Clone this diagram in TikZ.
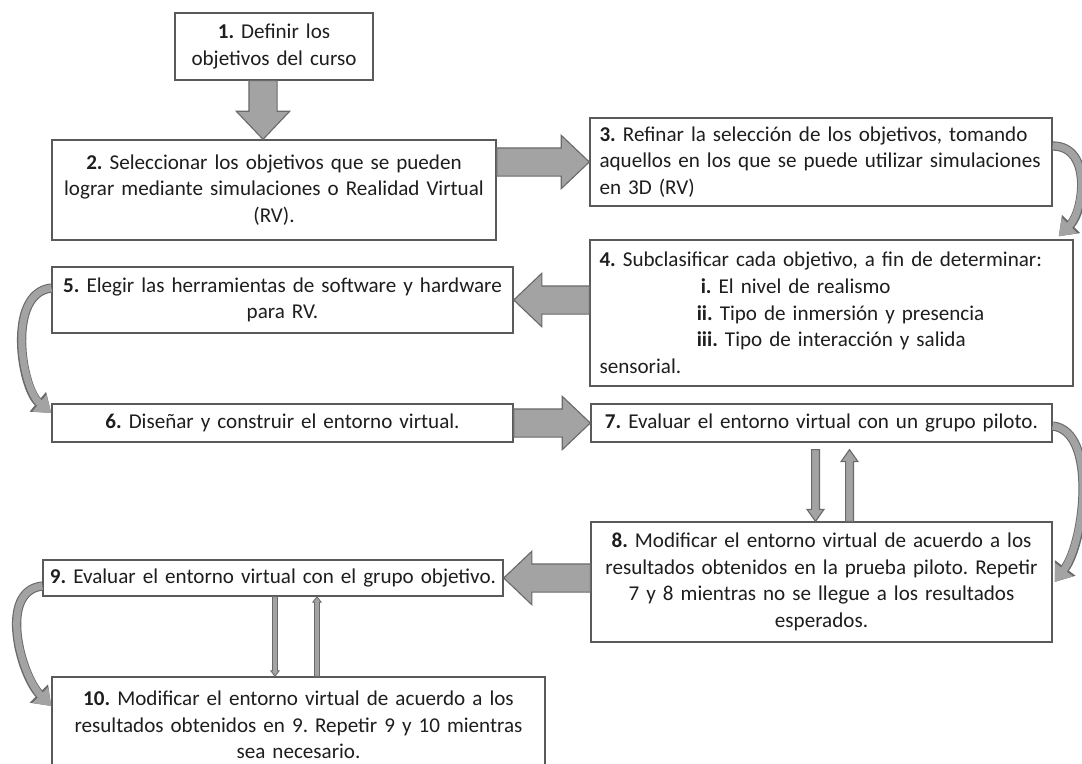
\documentclass[tikz,border=0pt]{standalone}
\usepackage{fontspec}
\setmainfont{Carlito}
\usetikzlibrary{calc,arrows.meta}
\definecolor{boxline}{HTML}{5A5A5A}
\definecolor{arrowfill}{HTML}{A3A3A3}
\definecolor{arrowline}{HTML}{6A6A6A}
\definecolor{textcol}{HTML}{1E1E1E}
\frenchspacing
\tikzset{
    box/.style={draw=boxline, line width=0.9pt, fill=white, text=textcol,
                inner xsep=0.1cm, inner ysep=0pt, align=center,
                font=\fontsize{15}{19}\selectfont\frenchspacing},
    blockarrow/.style n args={3}{draw=arrowline, fill=arrowfill, line width=0.8pt,
        to path={let \p1=(\tikztostart), \p2=(\tikztotarget),
                     \n1={atan2(\y2-\y1,\x2-\x1)},
                     \n2={veclen(\x2-\x1,\y2-\y1)-#3} in
            ($(\p1)+(\n1+90:#1)$) -- ($(\p1)+(\n1:\n2)+(\n1+90:#1)$)
            -- ($(\p1)+(\n1:\n2)+(\n1+90:#2)$) -- (\p2)
            -- ($(\p1)+(\n1:\n2)+(\n1-90:#2)$) -- ($(\p1)+(\n1:\n2)+(\n1-90:#1)$)
            -- ($(\p1)+(\n1-90:#1)$) -- cycle}},
    bigarrow/.style={blockarrow={10pt}{19pt}{20pt}},
    thinarrow/.style={blockarrow={2.8pt}{6pt}{8.5pt}},
    tinyarrow/.style={blockarrow={1.8pt}{3pt}{4pt}, line width=0.6pt},
    curvearrow/.style={draw=arrowfill, line width=5pt, -{Triangle[length=11pt,width=15pt]},
        preaction={draw=arrowline, line width=6.6pt, -{Triangle[length=12.5pt,width=17.5pt]}}}
}
\begin{document}
\begin{tikzpicture}[x=0.025cm, y=-0.025cm]
    \useasboundingbox (0,0) rectangle (1082,763);
    \clip (0,0) rectangle (1082,763);
    % boxes
    \node[box, text width=4.75cm, minimum height=1.675cm] (b1) at (274,46.5)
        {\textbf{1.} Definir los\\objetivos del curso};
    \node[box, text width=10.9cm, minimum height=2.5cm] (b2) at (274,190)
        {\textbf{2.} Seleccionar los objetivos que se pueden\\lograr mediante simulaciones o Realidad Virtual\\(RV).};
    \node[box, align=left, inner xsep=0.24cm, text width=11.07cm, minimum height=2.2cm] (b3) at (821,162)
        {\textbf{3.} Refinar la selección de los objetivos, tomando\\aquellos en los que se puede utilizar simulaciones\\en 3D (RV)};
    \node[box, align=left, inner xsep=0.24cm, text width=11.595cm, minimum height=3.65cm] (b4) at (831.5,313)
        {\textbf{4.} Subclasificar cada objetivo, a fin de determinar:\\
         \hspace*{2.53cm}\textbf{i.} El nivel de realismo\\
         \hspace*{2.43cm}\textbf{ii.} Tipo de inmersión y presencia\\
         \hspace*{2.43cm}\textbf{iii.} Tipo de interacción y salida\\
         sensorial.};
    \node[box, text width=11.325cm, minimum height=1.65cm] (b5) at (282.5,300)
        {\textbf{5.} Elegir las herramientas de software y hardware\\para RV.};
    \node[box, text width=11.325cm, minimum height=0.95cm] (b6) at (282.5,423)
        {\textbf{6.} Diseñar y construir el entorno virtual.};
    \node[box, text width=11.325cm, minimum height=0.95cm] (b7) at (821.5,423)
        {\textbf{7.} Evaluar el entorno virtual con un grupo piloto.};
    \node[box, text width=11.325cm, minimum height=3cm] (b8) at (821.5,582)
        {\textbf{8.} Modificar el entorno virtual de acuerdo a los\\resultados obtenidos en la prueba piloto. Repetir\\7 y 8 mientras no se llegue a los resultados\\esperados.};
    \node[box, inner xsep=0pt, text width=11.5cm, minimum height=0.9cm] (b9) at (273,578)
        {\textbf{9.} Evaluar el entorno virtual con el grupo objetivo.};
    \node[box, text width=12.125cm, minimum height=2.4cm] (b10) at (298.5,725)
        {\textbf{10.} Modificar el entorno virtual de acuerdo a los\\resultados obtenidos en 9. Repetir 9 y 10 mientras\\sea necesario.};
    % block arrows
    \coordinate (a1) at ($(b1.south)+(-11,0)$);
    \draw[bigarrow] (a1) to (a1 |- b2.north);
    \draw[bigarrow] (b2.east |- b3.west) to (b3.west);
    \draw[bigarrow] (b4.west |- b5.east) to (b5.east);
    \draw[bigarrow] (b6.east) to (b7.west);
    \draw[bigarrow] (b8.west |- b9.east) to (b9.east);
    % back and forth
    \coordinate (d7) at ($(b7.south)+(-6,7)$);
    \coordinate (u7) at ($(b7.south)+(28,7)$);
    \draw[thinarrow] (d7) to (d7 |- b8.north);
    \draw[thinarrow] (u7 |- b8.north) to (u7);
    \coordinate (d9) at ($(b9.south)+(2,0)$);
    \coordinate (u9) at ($(b9.south)+(44,0)$);
    \draw[tinyarrow] (d9) to (d9 |- b10.north);
    \draw[tinyarrow] (u9 |- b10.north) to (u9);
    % curved arrows
    \draw[curvearrow] ($(b3.east)+(0,-16)$) .. controls +(40,0) and +(25,-25) .. ($(b4.north east)+(-15,-3)$);
    \draw[curvearrow] ($(b5.west)+(0,-12)$) .. controls +(-45,5) and +(-30,-25) .. ($(b6.west)+(0,-10)$);
    \draw[curvearrow] ($(b7.east)+(0,3)$) .. controls +(45,5) and +(30,-40) .. ($(b8.east)+(2,0)$);
    \draw[curvearrow] ($(b9.west)+(0,8)$) .. controls +(-45,5) and +(-30,-30) .. ($(b10.west)+(0,-19)$);
\end{tikzpicture}
\end{document}
